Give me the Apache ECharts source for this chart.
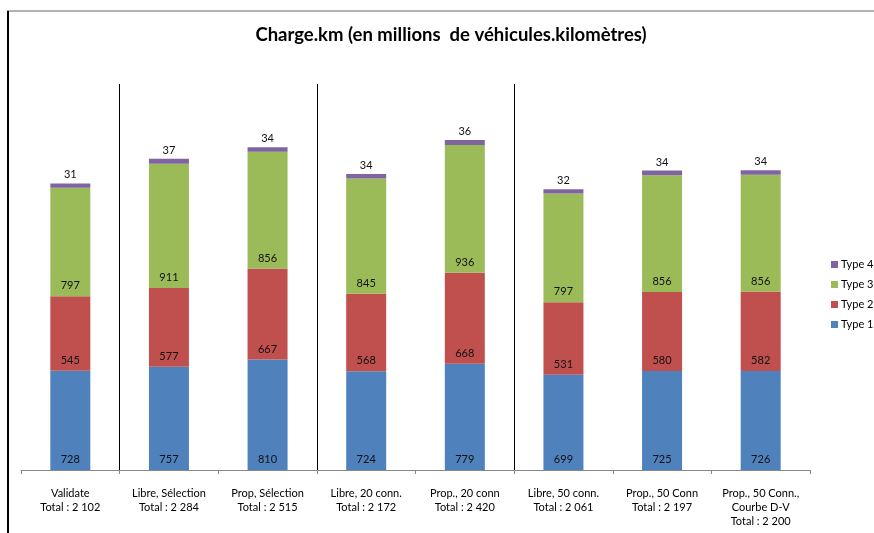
<!DOCTYPE html>
<html><head><meta charset="utf-8">
<script src="https://cdn.jsdelivr.net/npm/echarts@6/dist/echarts.min.js"></script>
<style>html,body{margin:0;padding:0;background:#fff}#c{width:874px;height:533px}</style>
</head><body><div id="c"></div>
<script>
const categories = ['Validate', 'Libre, Sélection', 'Prop, Sélection', 'Libre, 20 conn.', 'Prop., 20 conn', 'Libre, 50 conn.', 'Prop., 50 Conn', 'Prop., 50 Conn.,\nCourbe D-V'];
const totals = ['2 102', '2 284', '2 515', '2 172', '2 420', '2 061', '2 197', '2 200'];
const type1 = [728, 757, 810, 724, 779, 699, 725, 726];
const type2 = [545, 577, 667, 568, 668, 531, 580, 582];
const type3 = [797, 911, 856, 845, 936, 797, 856, 856];
const type4 = [31, 37, 34, 34, 36, 32, 34, 34];
const separators = [0.5, 2.5, 4.5]; // group boundaries (between category indices)

const FONT = 'Lato, "Open Sans", sans-serif';
const chart = echarts.init(document.getElementById('c'));
const labelsX = categories.map((c, i) => c + '\nTotal : ' + totals[i]);
function seg(name, data, color, top) {
  return {
    name, type: 'bar', stack: 's', data, barWidth: 40,
    itemStyle: { color },
    label: {
      show: true, position: top ? 'top' : 'insideBottom', distance: top ? 3 : 5,
      color: '#111', fontSize: 11, fontFamily: FONT
    }
  };
}
chart.setOption({
  animation: false,
  title: {
    text: 'Charge.km (en millions  de véhicules.kilomètres)',
    left: 446, top: 21, textAlign: 'center',
    textStyle: { fontSize: 18.5, fontWeight: 'bold', fontFamily: FONT, color: '#000' }
  },
  legend: {
    data: ['Type 4', 'Type 3', 'Type 2', 'Type 1'],
    orient: 'vertical', left: 826, top: 254, itemWidth: 7, itemHeight: 7, itemGap: 9,
    icon: 'rect',
    textStyle: { fontSize: 11, fontFamily: FONT, color: '#000', padding: [0, 0, 0, -2] }
  },
  grid: { left: 21, right: 64, top: 84, bottom: 63 },
  xAxis: [{
    type: 'category', data: labelsX,
    axisLine: { lineStyle: { color: '#888' } },
    axisTick: { show: true, length: 4, lineStyle: { color: '#888' } },
    axisLabel: { interval: 0, color: '#000', fontSize: 11, fontFamily: FONT, lineHeight: 14, margin: 16 },
    splitLine: { show: false }
  }, {
    type: 'value', min: -0.5, max: categories.length - 0.5, show: false,
    splitLine: { show: false }
  }],
  yAxis: { type: 'value', min: 0, max: 2830, show: false, splitLine: { show: false } },
  series: [
    seg('Type 1', type1, '#4F81BD'),
    seg('Type 2', type2, '#C0504D'),
    seg('Type 3', type3, '#9BBB59'),
    seg('Type 4', type4, '#8064A2', true),
    {
      name: 'sep', type: 'line', xAxisIndex: 1, data: [], silent: true,
      markLine: {
        silent: true, symbol: 'none', animation: false,
        label: { show: false },
        lineStyle: { color: '#000', width: 1, type: 'solid' },
        data: separators.map(x => ({ xAxis: x }))
      }
    }
  ],
  graphic: [
    { type: 'line', shape: { x1: 7, y1: 11, x2: 874, y2: 11 }, style: { stroke: '#999', lineWidth: 1.5 } },
    { type: 'line', shape: { x1: 8, y1: 11, x2: 8, y2: 533 }, style: { stroke: '#000', lineWidth: 2 } }
  ]
});
</script></body></html>
